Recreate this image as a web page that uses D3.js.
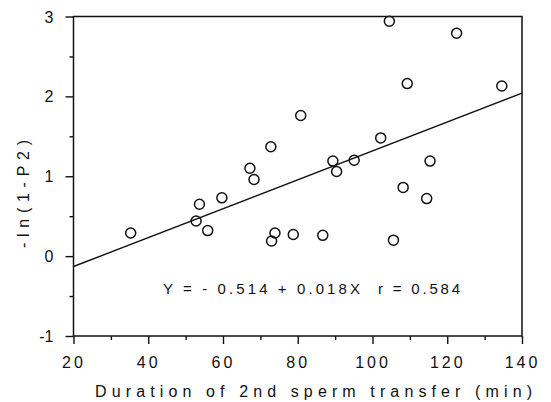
<!DOCTYPE html>
<html>
<head>
<meta charset="utf-8">
<script src="https://cdn.jsdelivr.net/npm/d3@7"></script>
<style>
  body { margin: 0; background: #fff; }
  text { font-family: "Liberation Sans", Arial, sans-serif; fill: #111; }
</style>
</head>
<body>
<script>
    // duration of 2nd sperm transfer (min)
    const durations = [35.3, 53.7, 59.7, 52.8, 55.9, 80.8, 72.8, 67.2, 68.3, 89.4,
                       90.4, 95.1, 73.9, 73.0, 78.8, 86.7, 104.5, 122.5, 109.3, 134.6,
                       102.2, 115.4, 108.2, 114.5, 105.6];
    // -ln(1-P2)
    const lnValues = [0.29, 0.65, 0.73, 0.44, 0.32, 1.76, 1.37, 1.10, 0.96, 1.19,
                      1.06, 1.20, 0.29, 0.19, 0.27, 0.26, 2.94, 2.79, 2.16, 2.13,
                      1.48, 1.19, 0.86, 0.72, 0.20];
    const fitX = [20, 140];
    const fitY = [-0.13, 2.04];
    const xTicks = [20, 40, 60, 80, 100, 120, 140];
    const xMinor = [30, 50, 70, 90, 110, 130];
    const yTicks = [-1, 0, 1, 2, 3];
    const yMinor = [-0.5, 0.5, 1.5, 2.5];
    const equationText = "Y = - 0.514 + 0.018X";
    const rText = "r = 0.584";
    const xTitle = "Duration of 2nd sperm transfer (min)";
    const yTitle = "-ln(1-P2)";

    const svg = d3.select('body').append('svg')
        .attr('width', 551)
        .attr('height', 402);

    const x = d3.scaleLinear().domain([20, 140]).range([73.5, 522]);
    const y = d3.scaleLinear().domain([-1, 3]).range([336, 16.5]);

    // plain hyphen for negatives, like the original
    const plain = (d) => String(d);

    const xAxis = svg.append('g').attr('transform', 'translate(0,336)')
        .call(d3.axisBottom(x).tickValues(xTicks).tickSize(8).tickSizeOuter(0).tickPadding(13).tickFormat(plain));
    svg.append('g').attr('transform', 'translate(0,336)')
        .call(d3.axisBottom(x).tickValues(xMinor).tickSize(4).tickSizeOuter(0).tickFormat(''));

    const yAxis = svg.append('g').attr('transform', 'translate(73.5,0)')
        .call(d3.axisLeft(y).tickValues(yTicks).tickSize(8).tickSizeOuter(0).tickPadding(12).tickFormat(plain));
    svg.append('g').attr('transform', 'translate(73.5,0)')
        .call(d3.axisLeft(y).tickValues(yMinor).tickSize(4).tickSizeOuter(0).tickFormat(''));

    svg.selectAll('.domain').remove();
    svg.selectAll('.tick line').attr('stroke', '#111').attr('stroke-width', 1.4);
    xAxis.selectAll('text').style('font-size', '16px').attr('letter-spacing', 3);
    yAxis.selectAll('text').style('font-size', '16px').attr('dy', '0.35em');

    // frame
    svg.append('rect')
        .attr('x', x(20)).attr('y', y(3))
        .attr('width', x(140) - x(20)).attr('height', y(-1) - y(3))
        .attr('fill', 'none').attr('stroke', '#111').attr('stroke-width', 1.5);

    // regression line
    svg.append('line')
        .attr('x1', x(fitX[0])).attr('y1', y(fitY[0]))
        .attr('x2', x(fitX[1])).attr('y2', y(fitY[1]))
        .attr('stroke', '#111').attr('stroke-width', 1.4);

    svg.selectAll('circle.pt')
        .data(durations)
        .enter()
        .append('circle')
        .attr('class', 'pt')
        .attr('cx', (d) => x(d))
        .attr('cy', (d, i) => y(lnValues[i]))
        .attr('r', 5)
        .attr('fill', 'none')
        .attr('stroke', '#111')
        .attr('stroke-width', 1.5);

    svg.append('text')
        .attr('x', 163).attr('y', 294)
        .style('font-size', '15px')
        .attr('textLength', 197).attr('lengthAdjust', 'spacing')
        .text(equationText);
    svg.append('text')
        .attr('x', 378).attr('y', 294)
        .style('font-size', '15px')
        .attr('textLength', 82).attr('lengthAdjust', 'spacing')
        .text(rText);

    svg.append('text')
        .attr('x', 95).attr('y', 397)
        .style('font-size', '16px')
        .attr('textLength', 437).attr('lengthAdjust', 'spacing')
        .text(xTitle);
    svg.append('text')
        .attr('transform', 'translate(29,248)rotate(-90)')
        .style('font-size', '16px')
        .attr('textLength', 108).attr('lengthAdjust', 'spacing')
        .text(yTitle);
</script>
</body>
</html>
